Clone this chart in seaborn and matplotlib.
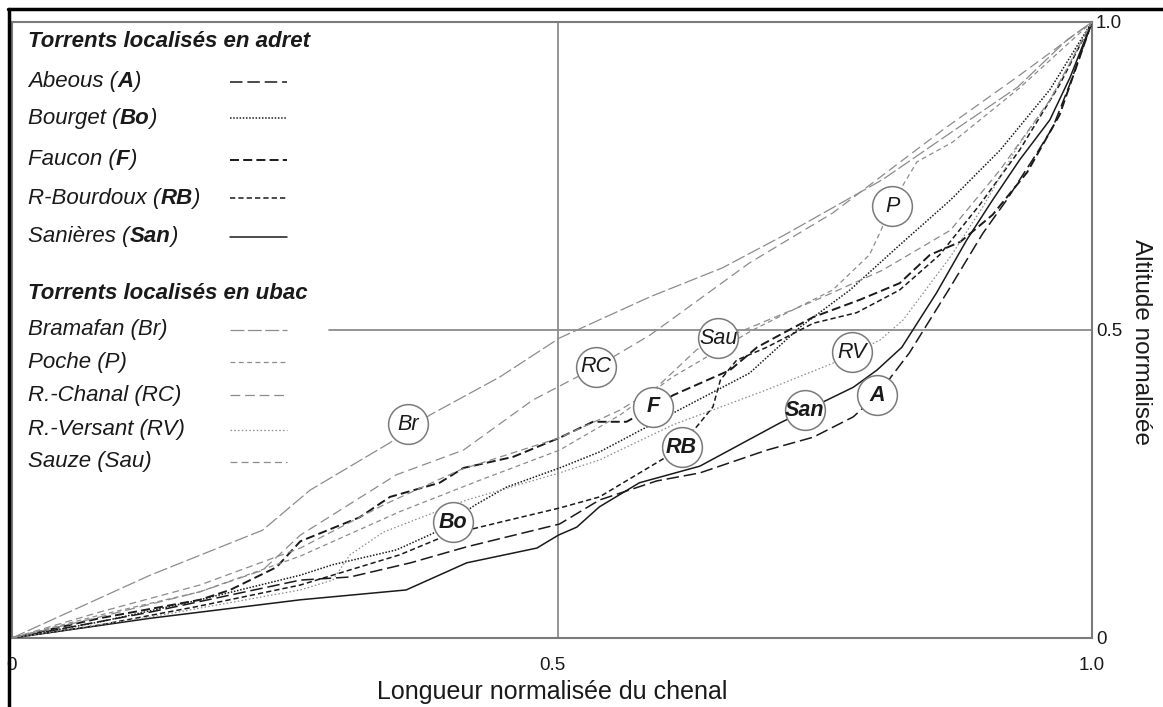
import matplotlib
matplotlib.use("Agg")
import matplotlib.pyplot as plt
import seaborn as sns
from matplotlib.lines import Line2D
from matplotlib.offsetbox import TextArea, HPacker, AnnotationBbox

# ── Profils en long normalisés (x = longueur, y = altitude) ──────────
abeous_x = [0, 0.128, 0.267, 0.313, 0.369, 0.421, 0.507, 0.544, 0.597, 0.637, 0.699, 0.742, 0.779, 0.801, 0.831, 0.869, 0.899, 0.921, 0.949, 0.964, 0.980, 1]
abeous_y = [0, 0.042, 0.094, 0.099, 0.122, 0.148, 0.185, 0.224, 0.255, 0.268, 0.305, 0.326, 0.359, 0.394, 0.463, 0.570, 0.657, 0.711, 0.787, 0.830, 0.901, 1]

bourget_x = [0, 0.081, 0.174, 0.267, 0.297, 0.356, 0.390, 0.429, 0.458, 0.507, 0.544, 0.612, 0.683, 0.730, 0.776, 0.822, 0.869, 0.915, 0.961, 1]
bourget_y = [0, 0.026, 0.062, 0.102, 0.119, 0.143, 0.170, 0.216, 0.245, 0.276, 0.302, 0.365, 0.430, 0.505, 0.565, 0.638, 0.711, 0.792, 0.890, 1]

faucon_x = [0, 0.081, 0.174, 0.202, 0.245, 0.267, 0.322, 0.350, 0.396, 0.418, 0.464, 0.507, 0.538, 0.569, 0.594, 0.612, 0.665, 0.690, 0.711, 0.742, 0.785, 0.822, 0.850, 0.878, 0.908, 0.940, 0.970, 1]
faucon_y = [0, 0.032, 0.062, 0.078, 0.115, 0.157, 0.196, 0.229, 0.252, 0.276, 0.294, 0.325, 0.351, 0.351, 0.375, 0.394, 0.435, 0.472, 0.492, 0.521, 0.549, 0.576, 0.622, 0.643, 0.687, 0.756, 0.849, 1]

bourdoux_x = [0, 0.081, 0.174, 0.267, 0.359, 0.403, 0.452, 0.507, 0.544, 0.606, 0.634, 0.649, 0.656, 0.671, 0.699, 0.742, 0.782, 0.822, 0.859, 0.896, 0.933, 0.970, 1]
bourdoux_y = [0, 0.021, 0.052, 0.086, 0.135, 0.167, 0.188, 0.211, 0.229, 0.294, 0.343, 0.375, 0.419, 0.451, 0.472, 0.511, 0.528, 0.565, 0.622, 0.703, 0.792, 0.898, 1]

sanieres_x = [0, 0.128, 0.267, 0.365, 0.421, 0.486, 0.506, 0.523, 0.544, 0.581, 0.637, 0.711, 0.779, 0.801, 0.824, 0.856, 0.884, 0.908, 0.933, 0.961, 0.980, 1]
sanieres_y = [0, 0.032, 0.062, 0.078, 0.122, 0.146, 0.167, 0.180, 0.213, 0.252, 0.279, 0.349, 0.407, 0.435, 0.472, 0.560, 0.646, 0.711, 0.776, 0.841, 0.911, 1]

bramafan_x = [0, 0.128, 0.232, 0.276, 0.350, 0.387, 0.452, 0.507, 0.591, 0.658, 0.714, 0.806, 0.869, 0.931, 0.977, 1]
bramafan_y = [0, 0.102, 0.175, 0.240, 0.317, 0.362, 0.424, 0.487, 0.554, 0.601, 0.653, 0.744, 0.820, 0.894, 0.971, 1]

poche_x = [0, 0.081, 0.174, 0.267, 0.359, 0.433, 0.507, 0.563, 0.612, 0.686, 0.760, 0.794, 0.806, 0.815, 0.825, 0.838, 0.871, 0.933, 1]
poche_y = [0, 0.037, 0.075, 0.133, 0.205, 0.256, 0.305, 0.362, 0.424, 0.500, 0.565, 0.622, 0.667, 0.701, 0.735, 0.773, 0.805, 0.893, 1]

chanal_x = [0, 0.081, 0.174, 0.232, 0.267, 0.356, 0.418, 0.482, 0.541, 0.591, 0.683, 0.760, 0.862, 0.931, 1]
chanal_y = [0, 0.034, 0.075, 0.110, 0.167, 0.265, 0.305, 0.386, 0.440, 0.492, 0.609, 0.690, 0.825, 0.911, 1]

versant_x = [0, 0.128, 0.267, 0.297, 0.313, 0.344, 0.421, 0.507, 0.544, 0.612, 0.699, 0.760, 0.804, 0.825, 0.869, 0.899, 0.931, 0.961, 1]
versant_y = [0, 0.034, 0.078, 0.094, 0.135, 0.172, 0.224, 0.268, 0.289, 0.346, 0.403, 0.446, 0.484, 0.516, 0.619, 0.700, 0.797, 0.873, 1]

sauze_x = [0, 0.081, 0.174, 0.267, 0.344, 0.415, 0.507, 0.563, 0.597, 0.634, 0.654, 0.674, 0.745, 0.806, 0.869, 0.915, 0.961, 1]
sauze_y = [0, 0.042, 0.086, 0.146, 0.216, 0.273, 0.325, 0.370, 0.407, 0.468, 0.487, 0.497, 0.549, 0.597, 0.662, 0.760, 0.873, 1]

# étiquettes cerclées : code, position, adret (gras) ou non
label_codes = ["A", "Bo", "F", "RB", "San", "Br", "P", "RC", "RV", "Sau"]
label_x = [0.801, 0.408, 0.594, 0.620, 0.734, 0.367, 0.815, 0.541, 0.778, 0.654]
label_y = [0.394, 0.188, 0.375, 0.310, 0.370, 0.347, 0.701, 0.440, 0.464, 0.487]
label_bold = [True, True, True, True, True, False, False, False, False, False]

BLACK = "#1a1a1a"
GREY = "#8c8c8c"

# (nom, code, x, y, couleur, épaisseur, tirets)
adret = [
    ("Abeous", "A", abeous_x, abeous_y, BLACK, 1.1, (9, 3.5)),
    ("Bourget", "Bo", bourget_x, bourget_y, BLACK, 1.1, (1.1, 1.2)),
    ("Faucon", "F", faucon_x, faucon_y, BLACK, 1.4, (6.5, 3)),
    ("R-Bourdoux", "RB", bourdoux_x, bourdoux_y, BLACK, 1.1, (3.8, 2.2)),
    ("Sanières", "San", sanieres_x, sanieres_y, BLACK, 1.1, None),
]
ubac = [
    ("Bramafan", "Br", bramafan_x, bramafan_y, GREY, 0.9, (10, 2.5)),
    ("Poche", "P", poche_x, poche_y, GREY, 0.9, (3.5, 2.5)),
    ("R.-Chanal", "RC", chanal_x, chanal_y, GREY, 0.9, (7, 3.5)),
    ("R.-Versant", "RV", versant_x, versant_y, GREY, 0.9, (1.1, 1.6)),
    ("Sauze", "Sau", sauze_x, sauze_y, GREY, 0.9, (5, 3)),
]

sns.set_theme(style="white")
plt.rcParams["font.family"] = ["Liberation Sans", "DejaVu Sans"]
plt.rcParams["lines.scale_dashes"] = False

fig = plt.figure(figsize=(11.63, 7.07), dpi=100)
ax = fig.add_axes([0.0103, 0.0976, 0.9286, 0.8713])


def ls_of(d):
    return "-" if d is None else (0, d)


for name, code, xs, ys, col, lw, dash in adret + ubac:
    sns.lineplot(x=xs, y=ys, sort=False, estimator=None, color=col,
                 lw=lw, linestyle=ls_of(dash), ax=ax, zorder=3)

# lignes de repère 0.5 / 0.5
ax.axhline(0.5, xmin=0.294, xmax=1, color="#8c8c8c", lw=1.3, zorder=1)
ax.axvline(0.506, color="#8c8c8c", lw=1.3, zorder=1)

# cercles d'étiquettes
sns.scatterplot(x=label_x, y=label_y, s=820, color="white", edgecolor="#7a7a7a",
                linewidth=1.1, zorder=5, ax=ax, legend=False)
for code, lx, ly, b in zip(label_codes, label_x, label_y, label_bold):
    ax.text(lx, ly, code, ha="center", va="center", fontsize=15.5,
            fontstyle="italic", fontweight="bold" if b else "normal",
            color=BLACK, zorder=6)

# légende manuelle
it = dict(fontstyle="italic", fontsize=16, color=BLACK)
itb = dict(fontstyle="italic", fontweight="bold", fontsize=16, color=BLACK)


def put_row(parts, y):
    box = HPacker(children=[TextArea(t, textprops=p) for t, p in parts],
                  pad=0, sep=0, align="baseline")
    ab = AnnotationBbox(box, (0.0148, y), xycoords="axes fraction",
                        box_alignment=(0, 0.5), frameon=False, pad=0)
    ax.add_artist(ab)


put_row([("Torrents localisés en adret", itb)], 0.968)
rows_adret = [0.903, 0.844, 0.776, 0.714, 0.651]
for (name, code, xs, ys, col, lw, dash), ry in zip(adret, rows_adret):
    put_row([(name + " (", it), (code, itb), (")", it)], ry)
    ax.plot([0.202, 0.255], [ry, ry], transform=ax.transAxes, color=col,
            lw=lw, linestyle=ls_of(dash))

put_row([("Torrents localisés en ubac", itb)], 0.560)
rows_ubac = [0.500, 0.448, 0.394, 0.338, 0.286]
for (name, code, xs, ys, col, lw, dash), ry in zip(ubac, rows_ubac):
    put_row([(name + " (" + code + ")", it)], ry)
    ax.plot([0.202, 0.255], [ry, ry], transform=ax.transAxes, color=col,
            lw=lw, linestyle=ls_of(dash))

# axes
ax.set_xlim(0, 1)
ax.set_ylim(0, 1)
ax.set_xticks([0, 0.5, 1])
ax.set_xticklabels(["0", "0.5", "1.0"])
ax.yaxis.tick_right()
ax.set_yticks([0, 0.5, 1])
ax.set_yticklabels(["0", "0.5", "1.0"])
ax.tick_params(axis="both", length=0, labelsize=13.5, colors=BLACK)
ax.tick_params(axis="x", pad=14)
ax.tick_params(axis="y", pad=3)
ax.set_xlabel("Longueur normalisée du chenal", fontsize=18, color=BLACK, labelpad=4)
ax.set_ylabel("Altitude normalisée", fontsize=17.5, color=BLACK, rotation=270,
              ha="center", va="center")
ax.yaxis.set_label_coords(1.045, 0.48)
for sp in ax.spines.values():
    sp.set_color("#7a7a7a")
    sp.set_linewidth(1.5)

# cadre de la figure (haut et gauche)
fig.add_artist(Line2D([0.007, 1.0], [0.987, 0.987], color="black", lw=2.5))
fig.add_artist(Line2D([0.008, 0.008], [0.0, 0.987], color="black", lw=2.5))

fig.savefig("out.png", dpi=100)
